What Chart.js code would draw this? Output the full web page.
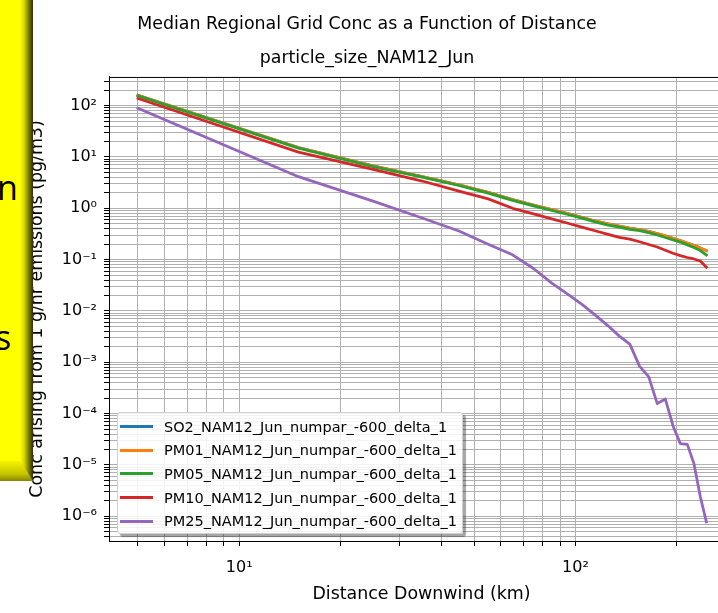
<!DOCTYPE html>
<html>
<head>
<meta charset="utf-8">
<script src="https://cdn.jsdelivr.net/npm/chart.js@4/dist/chart.umd.min.js"></script>
<style>
html,body{margin:0;padding:0;background:#fff;overflow:hidden;width:718px;height:613px;}
#wrap{position:absolute;left:0;top:0;width:734px;height:613px;}
#legend{position:absolute;left:117px;top:412px;width:346px;height:122px;box-sizing:border-box;border:1px solid #d0d0d0;border-radius:3px;background:rgba(255,255,255,0.85);box-shadow:3px 3px 1px rgba(0,0,0,0.35);padding-top:2px;font-family:'DejaVu Sans';font-size:14.5px;color:#000;z-index:3;}
#legend .row{height:23.6px;display:flex;align-items:center;white-space:nowrap;}
#legend .sw{display:inline-block;width:33px;height:3px;margin-left:2px;margin-right:11px;}
#ybox{position:absolute;left:0;top:0;width:33px;height:481px;overflow:hidden;z-index:5;}
#ybox .face{position:absolute;left:0;top:0;width:33px;height:481px;background:linear-gradient(to right,#ffff00 0px,#ffff00 20px,#d8d800 24px,#777700 29px,#2e2e00 33px);}
#ybox .bot{position:absolute;left:0;top:461px;width:33px;height:20px;background:linear-gradient(to bottom,#f4f400,#c4c400 65%,#868600);clip-path:polygon(0 0,20px 0,33px 20px,0 20px);}
#ybox .t{position:absolute;font-family:'Open Sans';font-size:34px;line-height:34px;color:#000;}
</style>
</head>
<body>
<div id="wrap"><canvas id="c" width="734" height="613"></canvas></div>
<div id="legend"></div>
<div id="ybox"><div class="face"></div><div class="bot"></div><span class="t" style="left:-3px;top:170px">n</span><span class="t" style="left:-5px;top:320px">s</span></div>
<script>
// ---- data ----
const distanceKm = [5,15,25,35,45,55,65,75,85,95,105,115,125,135,145,155,165,175,185,195,205,215,225,235,245];
const seriesLabels = [
  'SO2_NAM12_Jun_numpar_-600_delta_1',
  'PM01_NAM12_Jun_numpar_-600_delta_1',
  'PM05_NAM12_Jun_numpar_-600_delta_1',
  'PM10_NAM12_Jun_numpar_-600_delta_1',
  'PM25_NAM12_Jun_numpar_-600_delta_1'
];
const seriesColors = ['#1f77b4','#ff7f0e','#2ca02c','#d62728','#9467bd'];
const so2  = [158, 15.3, 6.70, 4.15, 2.86, 2.05, 1.48, 1.15, 0.94, 0.785, 0.66, 0.56, 0.495, 0.45, 0.41, 0.385, 0.355, 0.32, 0.29, 0.26, 0.235, 0.21, 0.19, 0.168, 0.149];
const pm01 = [158, 15.3, 6.70, 4.15, 2.86, 2.05, 1.48, 1.15, 0.94, 0.785, 0.66, 0.56, 0.495, 0.45, 0.41, 0.385, 0.355, 0.32, 0.29, 0.26, 0.235, 0.21, 0.19, 0.168, 0.149];
const pm05 = [155, 14.9, 6.50, 4.04, 2.78, 1.98, 1.43, 1.11, 0.906, 0.757, 0.635, 0.536, 0.472, 0.429, 0.390, 0.369, 0.337, 0.302, 0.270, 0.243, 0.220, 0.194, 0.172, 0.150, 0.123];
const pm10 = [138, 12.4, 5.75, 3.40, 2.17, 1.53, 1.00, 0.778, 0.624, 0.511, 0.425, 0.361, 0.310, 0.271, 0.250, 0.223, 0.197, 0.176, 0.152, 0.133, 0.120, 0.110, 0.103, 0.0940, 0.0708];
const pm25 = [88.9, 4.13, 1.38, 0.647, 0.362, 0.200, 0.124, 0.0671, 0.0350, 0.0211, 0.0131, 0.00809, 0.00513, 0.00323, 0.00226, 0.000843, 0.000526, 0.000157, 0.000192, 0.0000575, 0.0000260, 0.0000252, 0.0000106, 0.00000242, 0.000000778];

const xMajorValues = [10, 100];
const xMajorLabels = ['10\u00b9', '10\u00b2'];
const yMajorValues = [1e-6, 1e-5, 1e-4, 1e-3, 1e-2, 1e-1, 1, 10, 100];
const yMajorLabels = ['10\u207b\u2076','10\u207b\u2075','10\u207b\u2074','10\u207b\u00b3','10\u207b\u00b2','10\u207b\u00b9','10\u2070','10\u00b9','10\u00b2'];

const titleText = 'Median Regional Grid Conc as a Function of Distance';
const subtitleText = 'particle_size_NAM12_Jun';
const xTitle = 'Distance Downwind (km)';
const yTitle = 'Conc arising from 1 g/hr emissions (pg/m3)';

// axis ranges (matplotlib auto-limits as seen in picture)
const xMin = 4.1, xMax = 296;
const yMin = 3.3e-7, yMax = 362;

function logTicks(min, max) {
  const out = [];
  for (let e = Math.floor(Math.log10(min)); e <= Math.ceil(Math.log10(max)); e++) {
    for (let m = 1; m <= 9; m++) {
      const v = parseFloat((m * Math.pow(10, e)).toPrecision(6));
      if (v >= min && v <= max) out.push(v);
    }
  }
  return out;
}
function labelFor(value, vals, labs) {
  for (let i = 0; i < vals.length; i++) {
    if (Math.abs(Math.log10(value) - Math.log10(vals[i])) < 1e-6) return labs[i];
  }
  return '';
}

const seriesValues = [so2, pm01, pm05, pm10, pm25];
const datasets = seriesValues.map((arr, i) => ({
  label: seriesLabels[i],
  data: distanceKm.map((d, j) => ({x: d, y: arr[j]})),
  borderColor: seriesColors[i],
  backgroundColor: seriesColors[i],
  borderWidth: 2.8,
  borderCapStyle: 'square',
  borderJoinStyle: 'round',
  pointRadius: 0,
  tension: 0,
  fill: false,
  order: seriesValues.length - 1 - i
}));

const frame = {
  id: 'frame',
  afterDraw(chart) {
    const {ctx, chartArea: a} = chart;
    ctx.save();
    ctx.strokeStyle = '#000';
    ctx.lineWidth = 1;
    ctx.beginPath();
    ctx.moveTo(a.left, a.top + 0.5);
    ctx.lineTo(a.right, a.top + 0.5);
    ctx.moveTo(a.right - 0.5, a.top);
    ctx.lineTo(a.right - 0.5, a.bottom);
    ctx.stroke();
    ctx.restore();
  }
};

Chart.defaults.font.family = 'DejaVu Sans';
Chart.defaults.color = '#000';

const chart = new Chart(document.getElementById('c'), {
  type: 'line',
  data: {datasets},
  options: {
    responsive: false,
    animation: false,
    devicePixelRatio: 1,
    layout: {padding: 0},
    plugins: {
      legend: {display: false},
      tooltip: {enabled: false},
      title: {display: true, text: titleText, color: '#000', font: {size: 17.4, weight: 'normal'}, padding: {top: 14, bottom: 0}},
      subtitle: {display: true, text: subtitleText, color: '#000', font: {size: 17.4, weight: 'normal'}, padding: {top: 12.7, bottom: 8.5}}
    },
    scales: {
      x: {
        type: 'logarithmic', position: 'bottom', min: xMin, max: xMax,
        afterBuildTicks(scale) { scale.ticks = logTicks(xMin, xMax).map(v => ({value: v})); },
        afterFit(scale) { scale.height = 72; },
        ticks: {autoSkip: false, maxRotation: 0, minRotation: 0, padding: 12, color: '#000', font: {size: 16},
          callback: (v) => labelFor(v, xMajorValues, xMajorLabels)},
        grid: {color: '#b0b0b0', lineWidth: 1, drawTicks: true, tickColor: '#000', tickLength: 5},
        border: {display: true, color: '#000', width: 1},
        title: {display: true, text: xTitle, color: '#000', font: {size: 17.4}, padding: {top: 0, bottom: 8.5}}
      },
      y: {
        type: 'logarithmic', position: 'left', min: yMin, max: yMax,
        afterBuildTicks(scale) { scale.ticks = logTicks(yMin, yMax).map(v => ({value: v})); },
        afterFit(scale) { scale.width = 109; },
        ticks: {autoSkip: false, padding: 7, color: '#000', font: {size: 16},
          callback: (v) => labelFor(v, yMajorValues, yMajorLabels)},
        grid: {color: '#b0b0b0', lineWidth: 1, drawTicks: true, tickColor: '#000', tickLength: 5},
        border: {display: true, color: '#000', width: 1},
        title: {display: true, text: yTitle, color: '#000', font: {size: 17.4}, padding: {top: 26.6, bottom: 0}}
      }
    }
  },
  plugins: [frame]
});

// HTML legend built from the chart's datasets
const leg = document.getElementById('legend');
chart.data.datasets.forEach(ds => {
  const row = document.createElement('div'); row.className = 'row';
  const sw = document.createElement('span'); sw.className = 'sw'; sw.style.background = ds.borderColor;
  const tx = document.createElement('span'); tx.textContent = ds.label;
  row.appendChild(sw); row.appendChild(tx); leg.appendChild(row);
});
</script>
</body>
</html>
